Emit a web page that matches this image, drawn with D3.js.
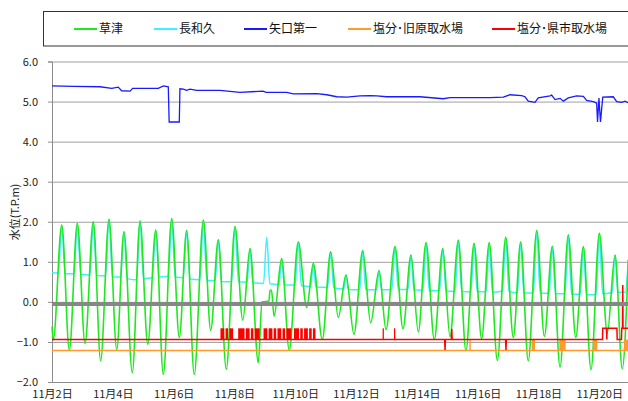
<!DOCTYPE html>
<html lang="ja">
<head>
<meta charset="utf-8">
<script src="https://cdn.jsdelivr.net/npm/d3@7"></script>
<style>
  html, body { margin: 0; padding: 0; background: #fff; }
  svg { display: block; font-family: "Noto Sans CJK JP", "Noto Sans", sans-serif; }
</style>
</head>
<body>
<svg id="chart" width="628" height="401"></svg>
<script>
// ---- data (hours elapsed since 11/2 0:00, water level T.P.m) ----
const startDate = new Date(2000, 10, 2);
const endDate = new Date(2000, 10, 21);
const dayTicks = [2, 4, 6, 8, 10, 12, 14, 16, 18, 20];
const yTicks = [-2, -1, 0, 1, 2, 3, 4, 5, 6];

const seriesNames = ["草津", "長和久", "矢口第一", "塩分･旧原取水場", "塩分･県市取水場"];
const seriesColors = ["#1ee81e", "#40f0ff", "#1a1aff", "#ff9a2e", "#ff0000"];

// 草津 (tidal level, high/low waters)
const kusatsu = [
  [0,-0.62],[1,-0.95],[7.7,1.92],[13.7,-1.21],[20,1.96],[26.1,-1.04],[32.6,2.0],[38.4,-1.47],
  [45,2.06],[51.1,-1.19],[56.8,1.75],[63.4,-1.77],[69.5,2.02],[75.6,-1.06],[81.9,1.79],[87.9,-1.81],
  [94.5,2.08],[100.5,-0.89],[106.3,1.78],[112.3,-1.81],[119.5,2.04],[125.3,-0.71],[131.3,1.55],
  [137.6,-1.68],[144.5,1.88],[150.6,-0.46],[156.3,1.33],[162.9,-1.52],[165.8,0.0],[171.3,0.02],
  [172.1,0.29],[173.3,0.29],[175.3,-0.36],[181.3,1.08],[187.3,-1.21],[194.4,1.5],[201.1,-0.14],
  [206.3,0.96],[213.4,-0.94],[220,1.25],[226,-0.39],[232.1,0.67],[238.4,-0.81],[245.3,1.28],
  [251.6,-0.52],[258.2,0.78],[263.7,-0.69],[270.8,1.38],[277.1,-0.67],[283.4,1.17],[289.2,-0.75],
  [295.3,1.48],[301.8,-0.94],[308.5,1.33],[314.2,-0.87],[320.8,1.54],[326.8,-1.22],[333.2,1.46],
  [339.2,-0.92],[345.2,1.48],[351.6,-1.46],[358.2,1.61],[364.2,-0.89],[370,1.5],[376,-1.47],
  [382.7,1.78],[388.7,-0.86],[395,1.39],[401.1,-1.63],[407.6,1.67],[413.5,-0.89],[419.5,1.38],
  [425.5,-1.69],[432.1,1.71],[438.4,-0.78],[444.5,1.17],[450.2,-1.67],[455,1.05]
];

// 長和久
const nagawaku = [
  [0,0.73],
  [5,0.72],[7.7,1.92],[10.4,0.70],
  [17.3,0.70],[20,1.96],[22.7,0.69],
  [29.9,0.67],[32.6,2.0],[35.3,0.66],
  [42.3,0.65],[45,2.06],[47.7,0.63],
  [54.1,0.62],[56.8,1.75],[59.5,0.58],
  [66.8,0.55],[69.5,2.02],[72.2,0.58],
  [79.2,0.6],[81.9,1.79],[84.6,0.62],
  [91.8,0.64],[94.5,2.08],[97.2,0.62],
  [103.6,0.6],[106.3,1.78],[109,0.57],
  [116.8,0.55],[119.5,2.04],[122.2,0.54],
  [128.8,0.53],[131.3,1.55],[133.8,0.51],
  [141.8,0.5],[144.5,1.88],[147.2,0.5],
  [154,0.49],[156.3,1.33],[158.6,0.48],
  [167,0.46],[169.5,1.61],[172,0.45],
  [179.2,0.43],[181.3,1.08],[183.4,0.42],
  [191.9,0.42],[194.4,1.5],[196.9,0.40],
  [204.3,0.38],[206.3,0.96],[208.3,0.37],
  [217.6,0.36],[220,1.25],[222.4,0.35],
  [230.4,0.32],[232.1,0.67],[233.8,0.31],
  [242.9,0.30],[245.3,1.28],[247.7,0.30],
  [256.3,0.30],[258.2,0.78],[260.1,0.30],
  [268.3,0.31],[270.8,1.38],[273.3,0.31],
  [281.1,0.31],[283.4,1.17],[285.7,0.30],
  [292.8,0.29],[295.3,1.48],[297.8,0.28],
  [306,0.28],[308.5,1.33],[311,0.27],
  [318.2,0.26],[320.8,1.54],[323.4,0.26],
  [330.7,0.25],[333.2,1.46],[335.7,0.25],
  [342.7,0.25],[345.2,1.48],[347.7,0.24],
  [355.6,0.27],[358.2,1.61],[360.8,0.26],
  [367.5,0.23],[370,1.5],[372.5,0.22],
  [380,0.22],[382.7,1.78],[385.4,0.22],
  [392.5,0.21],[395,1.39],[397.5,0.2],
  [405,0.2],[407.6,1.67],[410.2,0.19],
  [417,0.19],[419.5,1.38],[422,0.18],
  [429.5,0.18],[432.1,1.71],[434.7,0.2],
  [442.2,0.24],[444.5,1.17],[446.8,0.24],
  [452.5,0.24],[455,1.05]
];

// 矢口第一
const yaguchi = [
  [0,5.39],[16.8,5.38],[37.9,5.37],[47.1,5.33],[52.3,5.36],[55,5.27],[61.6,5.26],[63.7,5.33],
  [83.9,5.33],[87.9,5.39],[91.8,5.37],[92.5,4.49],[100.5,4.49],[101,5.32],[103.7,5.31],
  [106.3,5.28],[109,5.31],[114.2,5.28],[132.6,5.28],[148.4,5.23],[166.6,5.26],[169,5.23],
  [185.3,5.23],[190.5,5.19],[209,5.2],[216.9,5.17],[224.8,5.12],[232.7,5.11],[243.2,5.14],
  [251.1,5.15],[256.3,5.14],[264.2,5.12],[290.5,5.12],[308.9,5.07],[314.2,5.1],[345.8,5.1],
  [356.3,5.11],[361.6,5.17],[370.8,5.15],[373.4,5.12],[376,5.01],[381.3,4.98],[383.9,5.09],
  [393.2,5.14],[394.5,5.16],[397.1,5.05],[401.1,5.08],[403.7,5.01],[407.6,5.09],[414.2,5.14],
  [419.5,5.13],[422.1,5.03],[427.4,5.0],[430,4.96],[430.7,4.49],[431.8,5.09],[433,4.49],
  [434.8,5.11],[443.1,5.12],[445.8,5.0],[449.8,4.98],[452.4,5.01],[455,4.97]
];

// 塩分・旧原取水場 (flag levels)
const kyuharaBase = -1.215;
const kyuharaHigh = -0.94;
const kyuharaSpans = [[329.5,330.6],[378.7,381.3],[400.5,405.5],[427,430.5],[451.5,455]];

// 塩分・県市取水場
const kenshiBase = -0.94;
const kenshiHigh = -0.66;
const kenshiSpans = [
  [133,136],[137,139],[140,143],[147,152],[153,156],[157,159],[160,164],[167,170],[171,174],
  [175,177],[178,181],[182,184],[185,189],[191,195],[196,198],[199,202],[203,205],[206,208],
  [261,262],[270,271]
];
const kenshiLine = [
  [0,-0.94],[310,-0.94],[310.3,-1.2],[310.6,-0.94],[315.3,-0.94],[315.6,-0.67],[315.9,-0.94],
  [358.1,-0.94],[358.4,-1.2],[358.7,-0.94],[434.6,-0.94],[434.8,-0.66],[437.8,-0.66],[438,-0.94],
  [438.2,-0.66],[446,-0.66],[446.2,-0.94],[449.6,-0.94],[449.8,-0.66],[450.4,-0.66],[450.6,0.42],
  [450.8,-0.66],[455,-0.66]
];

// reference level band
const refLevel = [[0,-0.05],[455,-0.05]];

// ---- chart ----
const plotLeft = 52, plotRight = 629.6, plotTop = 61.5, plotBottom = 382;
const svg = d3.select("#chart");

const hourToDate = h => new Date(startDate.getTime() + h * 3600e3);
const x = d3.scaleTime().domain([startDate, endDate]).range([plotLeft, plotRight]);
const y = d3.scaleLinear().domain([-2, 6]).range([plotBottom, plotTop]);

// grid
svg.append("g")
  .attr("transform", `translate(${plotLeft},0)`)
  .call(d3.axisLeft(y).tickValues(yTicks.filter(v => v > -2)).tickSize(-(plotRight - plotLeft)).tickFormat(""))
  .call(g => g.select(".domain").remove())
  .call(g => g.selectAll("line").attr("stroke", "#a0a0a0").attr("stroke-width", 1));

// y axis
svg.append("g")
  .attr("transform", `translate(${plotLeft},0)`)
  .call(d3.axisLeft(y).tickValues(yTicks).tickFormat(d3.format(".1f")).tickSize(4).tickPadding(10))
  .call(g => g.select(".domain").attr("stroke", "#8c8c8c"))
  .call(g => g.selectAll("line").attr("stroke", "#8c8c8c"))
  .call(g => g.selectAll("text").attr("fill", "#222").style("font-size", "11px")
    .style("font-family", '"Noto Sans CJK JP", sans-serif'));

// x axis
svg.append("g")
  .attr("transform", `translate(0,${plotBottom})`)
  .call(d3.axisBottom(x)
    .tickValues(dayTicks.map(d => new Date(2000, 10, d)))
    .tickFormat(d3.timeFormat("%-m月%-d日"))
    .tickSize(0).tickPadding(8.5))
  .call(g => g.select(".domain").attr("stroke", "#8c8c8c"))
  .call(g => g.selectAll("text").attr("fill", "#222").style("font-size", "11px")
    .style("font-family", '"Noto Sans CJK JP", sans-serif'));

// y title
svg.append("text")
  .attr("transform", "translate(19,212) rotate(-90)")
  .attr("text-anchor", "middle")
  .attr("fill", "#222")
  .style("font-size", "11px")
  .text("水位(T.P.m)");

const plot = svg.append("g");
const smooth = d3.line().x(d => x(hourToDate(d[0]))).y(d => y(d[1])).curve(d3.curveMonotoneX);
const straight = d3.line().x(d => x(hourToDate(d[0]))).y(d => y(d[1]));

// 長和久
plot.append("path").datum(nagawaku).attr("d", smooth)
  .attr("fill", "none").attr("stroke", seriesColors[1]).attr("stroke-width", 1.5);
// 草津
plot.append("path").datum(kusatsu).attr("d", smooth)
  .attr("fill", "none").attr("stroke", seriesColors[0]).attr("stroke-width", 1.6);
// 矢口第一
plot.append("path").datum(yaguchi).attr("d", straight)
  .attr("fill", "none").attr("stroke", seriesColors[2]).attr("stroke-width", 1.3);

// 塩分・旧原取水場
plot.append("path").datum([[0, kyuharaBase], [455, kyuharaBase]]).attr("d", straight)
  .attr("fill", "none").attr("stroke", seriesColors[3]).attr("stroke-width", 1.5);
plot.selectAll("rect.kyuhara").data(kyuharaSpans).join("rect")
  .attr("class", "kyuhara")
  .attr("x", d => x(hourToDate(d[0])))
  .attr("width", d => Math.max(1.2, x(hourToDate(d[1])) - x(hourToDate(d[0]))))
  .attr("y", y(kyuharaHigh))
  .attr("height", y(kyuharaBase) - y(kyuharaHigh))
  .attr("fill", seriesColors[3]);

// 塩分・県市取水場
plot.selectAll("rect.kenshi").data(kenshiSpans).join("rect")
  .attr("class", "kenshi")
  .attr("x", d => x(hourToDate(d[0])))
  .attr("width", d => Math.max(1.2, x(hourToDate(d[1])) - x(hourToDate(d[0]))))
  .attr("y", y(kenshiHigh))
  .attr("height", y(kenshiBase) - y(kenshiHigh))
  .attr("fill", seriesColors[4]);
plot.append("path").datum(kenshiLine).attr("d", straight)
  .attr("fill", "none").attr("stroke", seriesColors[4]).attr("stroke-width", 1.5);

// reference level
plot.append("path").datum(refLevel).attr("d", straight)
  .attr("fill", "none").attr("stroke", "#878787").attr("stroke-width", 4);

// legend
const legend = svg.append("g");
legend.append("rect")
  .attr("x", 43.5).attr("y", 11.5).attr("width", 620).attr("height", 34.5)
  .attr("fill", "#fff").attr("stroke", "#333").attr("stroke-width", 1);
const legendX = [74, 154, 244, 348, 492];
seriesNames.forEach((name, i) => {
  legend.append("line")
    .attr("x1", legendX[i]).attr("x2", legendX[i] + 23)
    .attr("y1", 29).attr("y2", 29)
    .attr("stroke", seriesColors[i]).attr("stroke-width", 2);
  legend.append("text")
    .attr("x", legendX[i] + 25).attr("y", 33.3)
    .attr("fill", "#111")
    .style("font-size", "12px")
    .text(name);
});
</script>
</body>
</html>
